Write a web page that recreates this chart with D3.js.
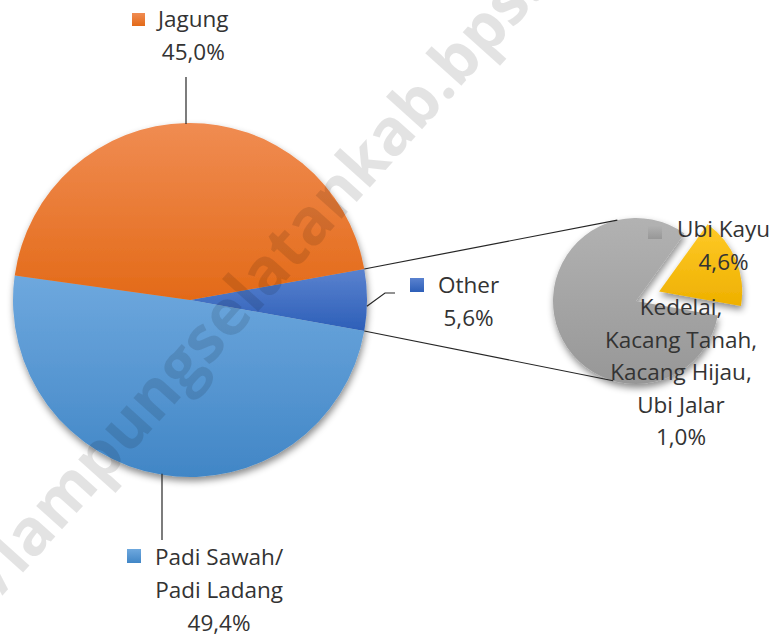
<!DOCTYPE html>
<html>
<head>
<meta charset="utf-8">
<script src="https://cdn.jsdelivr.net/npm/d3@7"></script>
<style>
  html, body { margin: 0; padding: 0; background: #fff; }
  svg { display: block; }
  text { font-family: 'Open Sans', sans-serif; fill: #333; }
</style>
</head>
<body>
<div id="chart"></div>
<script>
// values (percent)
const mainCategories = ['Jagung', 'Padi Sawah/ Padi Ladang', 'Other']
const mainValues = [45.0, 49.4, 5.6]
const mainLabelLines = [['Jagung'], ['Padi Sawah/', 'Padi Ladang'], ['Other']]

const subCategories = ['Ubi Kayu', 'Kedelai, Kacang Tanah, Kacang Hijau, Ubi Jalar']
const subValues = [4.6, 1.0]
const subLabelLines = [['Ubi Kayu'], ['Kedelai,', 'Kacang Tanah,', 'Kacang Hijau,', 'Ubi Jalar']]

const width = 777
const height = 635

const colors = {
  'Jagung': ['#f08c52', '#e36a18'],
  'Padi Sawah/ Padi Ladang': ['#6ea8de', '#4186c6'],
  'Other': ['#5a82cf', '#2d5fb8'],
  'Ubi Kayu': ['#b2b2b2', '#979797'],
  'Kedelai, Kacang Tanah, Kacang Hijau, Ubi Jalar': ['#ffca28', '#eeb000']
}

const fmt = v => d3.format('.1f')(v).replace('.', ',') + '%'

const svg = d3.select('#chart')
  .append('svg')
  .attr('width', width)
  .attr('height', height)
  .attr('viewBox', `0 0 ${width} ${height}`)

const defs = svg.append('defs')

Object.keys(colors).forEach((key, i) => {
  const g = defs.append('linearGradient')
    .attr('id', `grad${i}`)
    .attr('x1', 0).attr('y1', 0).attr('x2', 0).attr('y2', 1)
  g.append('stop').attr('offset', '0%').attr('stop-color', colors[key][0])
  g.append('stop').attr('offset', '100%').attr('stop-color', colors[key][1])
})
const gradId = name => `url(#grad${Object.keys(colors).indexOf(name)})`

defs.append('filter')
  .attr('id', 'shadow')
  .attr('x', '-20%').attr('y', '-20%').attr('width', '140%').attr('height', '140%')
  .append('feDropShadow')
  .attr('dx', 1).attr('dy', 4)
  .attr('stdDeviation', 3.5)
  .attr('flood-color', '#000')
  .attr('flood-opacity', 0.45)

// main pie
const main = { cx: 190, cy: 300, r: 177 }
const mainData = mainCategories.map((c, i) => ({ name: c, value: mainValues[i], lines: mainLabelLines[i] }))
const otherShare = mainValues[2] / d3.sum(mainValues)
const mainStart = Math.PI / 2 - otherShare * Math.PI

// order clockwise: Other, Padi, Jagung
const mainArcs = d3.pie()
  .value(d => d.value)
  .sort(null)
  .startAngle(mainStart)
  .endAngle(mainStart + 2 * Math.PI)([mainData[2], mainData[1], mainData[0]])

const arcMain = d3.arc().innerRadius(0).outerRadius(main.r)

svg.append('g')
  .attr('transform', `translate(${main.cx},${main.cy})`)
  .attr('filter', 'url(#shadow)')
  .selectAll('path')
  .data(mainArcs)
  .enter()
  .append('path')
  .attr('d', arcMain)
  .attr('fill', d => gradId(d.data.name))

// secondary pie
const sub = { cx: 636, cy: 301, r: 83, explode: 25 }
const subData = subCategories.map((c, i) => ({ name: c, value: subValues[i], lines: subLabelLines[i] }))
const smallShare = subValues[1] / d3.sum(subValues)
const smallEnd = 100 * Math.PI / 180
const subStart = smallEnd - smallShare * 2 * Math.PI

const subArcs = d3.pie()
  .value(d => d.value)
  .sort(null)
  .startAngle(subStart)
  .endAngle(subStart + 2 * Math.PI)([subData[1], subData[0]])

const arcSub = d3.arc().innerRadius(0).outerRadius(sub.r)

svg.append('g')
  .attr('transform', `translate(${sub.cx},${sub.cy})`)
  .attr('filter', 'url(#shadow)')
  .selectAll('path')
  .data(subArcs)
  .enter()
  .append('path')
  .attr('d', arcSub)
  .attr('fill', d => gradId(d.data.name))
  .attr('transform', d => {
    if (d.data.name === subCategories[0]) return null
    const a = (d.startAngle + d.endAngle) / 2
    return `translate(${Math.sin(a) * sub.explode},${-Math.cos(a) * sub.explode})`
  })

// connector lines between the two pies
const polar = (c, r, a) => [c.cx + Math.sin(a) * r, c.cy - Math.cos(a) * r]
const otherArc = mainArcs[0]
const deg = v => v * Math.PI / 180
const connectors = [
  [polar(main, main.r, otherArc.startAngle), polar(sub, sub.r, deg(-13))],
  [polar(main, main.r, otherArc.endAngle), polar(sub, sub.r, deg(196))]
]
svg.append('g')
  .selectAll('line')
  .data(connectors)
  .enter()
  .append('line')
  .attr('x1', d => d[0][0]).attr('y1', d => d[0][1])
  .attr('x2', d => d[1][0]).attr('y2', d => d[1][1])
  .attr('stroke', '#262626')
  .attr('stroke-width', 1.2)

// watermark
svg.append('text')
  .attr('transform', 'translate(2,596) rotate(-48)')
  .style('font-family', "'Open Sans', sans-serif")
  .style('font-weight', 700)
  .style('font-size', '64px')
  .style('fill', '#000')
  .style('fill-opacity', 0.11)
  .text('/lampungselatankab.bps.go.id')

// leader lines
const leaders = [
  [[186, 77], [186, main.cy - Math.sqrt(main.r * main.r - 4 * 4) + 1]],
  [[162, main.cy + Math.sqrt(main.r * main.r - 28 * 28) - 1], [162, 540]],
  [polar(main, main.r, deg(92)), [385, 293], [395, 293]]
]
svg.append('g')
  .selectAll('path')
  .data(leaders)
  .enter()
  .append('path')
  .attr('d', d => d3.line()(d))
  .attr('fill', 'none')
  .attr('stroke', '#262626')
  .attr('stroke-width', 1.2)

// data labels: key square, name lines, value
const lineH = 33
const labelLayout = [
  { d: mainData[0], key: [132, 13], x: 158, y: 27, size: 13 },
  { d: mainData[1], key: [127, 549], x: 155, y: 565, size: 14 },
  { d: mainData[2], key: [410, 278], x: 438, y: 293, size: 14 },
  { d: subData[0], key: [648, 225], x: 677, y: 237, size: 14 }
]

labelLayout.forEach(l => {
  const g = svg.append('g')
  g.append('rect')
    .attr('x', l.key[0]).attr('y', l.key[1])
    .attr('width', l.size).attr('height', l.size)
    .attr('fill', gradId(l.d.name))
  const first = g.append('text')
    .attr('x', l.x).attr('y', l.y)
    .style('font-size', '22.5px')
    .text(l.d.lines[0])
  const w = first.node().getComputedTextLength()
  const mid = l.x + w / 2
  const rest = l.d.lines.slice(1).concat([fmt(l.d.value)])
  rest.forEach((t, i) => {
    g.append('text')
      .attr('x', mid).attr('y', l.y + lineH * (i + 1))
      .attr('text-anchor', 'middle')
      .style('font-size', '22.5px')
      .text(t)
  })
})

// label of the small slice: centred block, no key shown
const smallLabel = svg.append('g')
subData[1].lines.concat([fmt(subData[1].value)]).forEach((t, i) => {
  smallLabel.append('text')
    .attr('x', 681).attr('y', 315 + 32.5 * i)
    .attr('text-anchor', 'middle')
    .style('font-size', '22.5px')
    .text(t)
})
</script>
</body>
</html>
